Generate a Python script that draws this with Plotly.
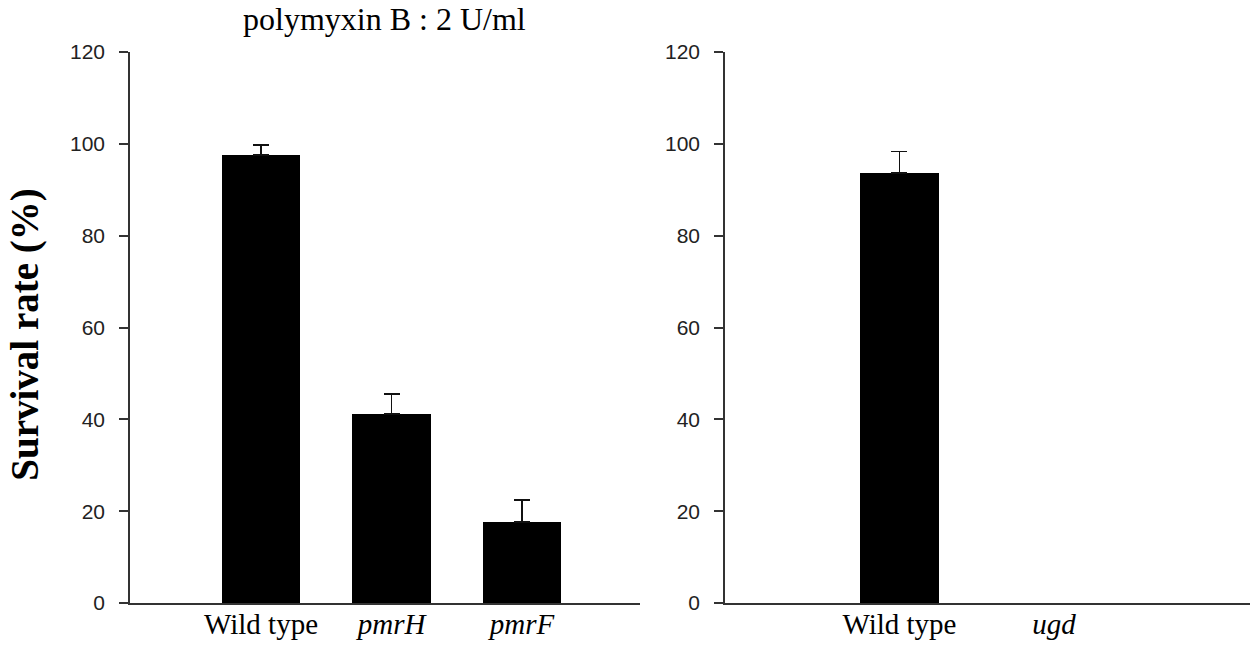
import plotly.graph_objects as go
from plotly.subplots import make_subplots

# Data
left_categories = ["Wild type", "pmrH", "pmrF"]
left_labels = ["Wild type", "<i>pmrH</i>", "<i>pmrF</i>"]
left_values = [97.6, 41.2, 17.6]
left_errors = [2.2, 4.3, 4.8]

right_categories = ["Wild type", "ugd"]
right_labels = ["Wild type", "<i>ugd</i>"]
right_values = [93.7, 0]
right_errors = [4.6, 0]

y_ticks = [0, 20, 40, 60, 80, 100, 120]
title_text = "polymyxin B : 2 U/ml"
y_title = "Survival rate (%)"

W, H = 1252, 651
AX = "#333333"
ERR = "#111111"
SERIF = "Times New Roman, Liberation Serif, serif"
SANS = "Arial, Liberation Sans, sans-serif"

fig = make_subplots(rows=1, cols=2)

fig.add_trace(go.Bar(
    x=left_categories, y=left_values, width=0.6,
    marker=dict(color="black", line=dict(width=0)),
    error_y=dict(type="data", array=left_errors, arrayminus=[0] * len(left_errors),
                 symmetric=False, color=ERR, thickness=1.5, width=8),
    showlegend=False,
), row=1, col=1)

# Right panel: one trace per category so that a zero bar gets no error cap
for cat, val, err in zip(right_categories, right_values, right_errors):
    fig.add_trace(go.Bar(
        x=[cat], y=[val], width=0.51,
        marker=dict(color="black", line=dict(width=0)),
        error_y=dict(type="data", array=[err], arrayminus=[0], symmetric=False,
                     color=ERR, thickness=1.5, width=8, visible=err > 0),
        showlegend=False,
    ), row=1, col=2)

xcommon = dict(showline=True, linecolor=AX, linewidth=1.5, ticks="", showgrid=False,
               zeroline=False, type="category",
               tickfont=dict(family=SERIF, size=29, color="black"),
               ticklabelstandoff=-6)
fig.update_xaxes(**xcommon)
fig.update_xaxes(domain=[130 / W, 640 / W], range=[-1.004, 2.904],
                 categoryorder="array", categoryarray=left_categories,
                 tickvals=left_categories, ticktext=left_labels, row=1, col=1)
fig.update_xaxes(domain=[725 / W, 1250 / W], range=[-1.13, 2.27],
                 categoryorder="array", categoryarray=right_categories,
                 tickvals=right_categories, ticktext=right_labels, row=1, col=2)

fig.update_yaxes(range=[0, 120], tickvals=y_ticks, showline=True, linecolor=AX, linewidth=1.5,
                 ticks="outside", ticklen=9, tickwidth=1.5, tickcolor=AX, showgrid=False,
                 zeroline=False, domain=[0, 1],
                 tickfont=dict(family=SANS, size=21, color="#222222"),
                 ticklabelstandoff=10)

fig.add_annotation(text=title_text, xref="paper", yref="paper",
                   x=384 / W, y=1 + (52 - 19) / 551, xanchor="center", yanchor="middle",
                   showarrow=False, font=dict(family=SERIF, size=32, color="black"))
fig.add_annotation(text="<b>" + y_title + "</b>", xref="paper", yref="paper",
                   x=25 / W, y=0.487, xanchor="center", yanchor="middle", textangle=-90,
                   showarrow=False, font=dict(family=SERIF, size=39, color="black"))

fig.update_layout(width=W, height=H, margin=dict(l=0, r=0, t=52, b=48),
                  plot_bgcolor="white", paper_bgcolor="white", bargap=0, barmode="overlay")

fig.write_html("out.html")
